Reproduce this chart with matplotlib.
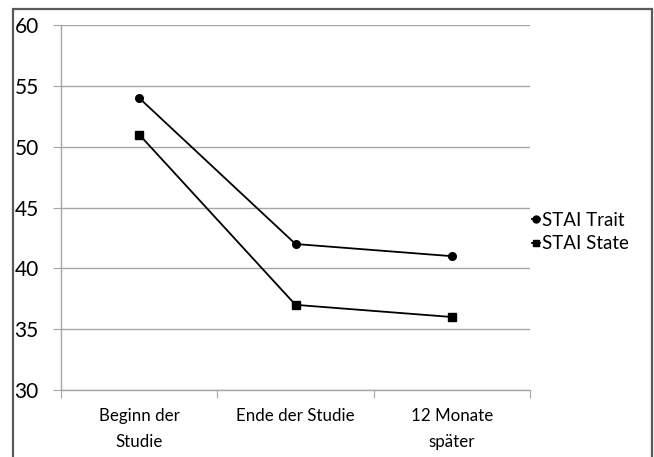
import matplotlib
matplotlib.use("Agg")
import matplotlib.pyplot as plt
from matplotlib.patches import Rectangle
from matplotlib.lines import Line2D

categories = ["Beginn der\nStudie", "Ende der Studie", "12 Monate\nspäter"]
trait = [54, 42, 41]
state = [51, 37, 36]
series_names = ["STAI Trait", "STAI State"]
yticks = [30, 35, 40, 45, 50, 55, 60]

W, H = 654, 457
fig = plt.figure(figsize=(W/100, H/100), dpi=100)
plt.rcParams['font.family'] = ['Lato', 'DejaVu Sans']

# outer frame
fig.patches.append(Rectangle((13/W, -0.05), (652-13)/W, 1.05 - 9/H, transform=fig.transFigure,
                             fill=False, edgecolor='#5a5a5a', linewidth=1.6))

ax = fig.add_axes([61/W, 1-390/H, (530-61)/W, (390-25)/H])
x = [0.5, 1.5, 2.5]
ax.set_xlim(0, 3)
ax.set_ylim(30, 60)
ax.set_yticks(yticks)
ax.set_yticklabels([str(v) for v in yticks], fontsize=15)
ax.yaxis.grid(True, color='#a6a6a6', linewidth=1)
ax.set_axisbelow(True)
ax.set_xticks([0, 1, 2, 3])
ax.set_xticklabels([])
ax.set_xticks(x, minor=True)
ax.set_xticklabels(categories, minor=True, fontsize=12.2, linespacing=1.75)
ax.tick_params(axis='x', which='minor', length=0, pad=13)
ax.tick_params(axis='x', which='major', length=6, color='#a6a6a6', direction='out')
ax.tick_params(axis='y', length=6, color='#a6a6a6', direction='out', pad=10)
for s in ['top', 'right']:
    ax.spines[s].set_visible(False)
for s in ['left', 'bottom']:
    ax.spines[s].set_color('#a6a6a6')
    ax.spines[s].set_linewidth(1)

ax.plot(x, trait, color='black', lw=1.3, marker='o', ms=5.5, label=series_names[0], clip_on=False)
ax.plot(x, state, color='black', lw=1.3, marker='s', ms=5.5, label=series_names[1], clip_on=False)

handles = [Line2D([], [], color='black', lw=1.3, marker='o', ms=5),
           Line2D([], [], color='black', lw=1.3, marker='s', ms=5)]
fig.legend(handles, series_names, loc='center left', bbox_to_anchor=(532/W, 1-232/H),
           frameon=False, fontsize=13.5, handlelength=0.45, handletextpad=0.1,
           labelspacing=0.35, borderaxespad=0, borderpad=0)

fig.savefig("out.png", dpi=100)
